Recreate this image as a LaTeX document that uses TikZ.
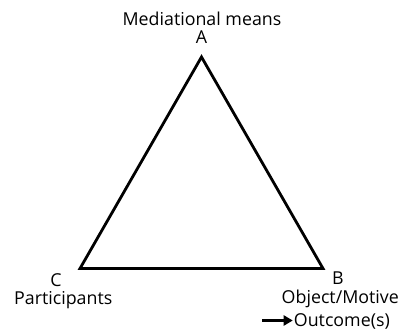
\documentclass[tikz,border=0pt]{standalone}
\usepackage{fontspec}
\setmainfont{Open Sans}
\usetikzlibrary{arrows.meta}
\begin{document}
\begin{tikzpicture}[x=1pt,y=-1pt,
  lbl/.style={inner sep=0pt,font=\fontsize{17.8}{20}\selectfont},
  side/.style={line width=2.8pt,line join=miter},
  pointer/.style={line width=2.4pt,-{Triangle[length=9pt,width=10pt]},shorten >=1pt}]
\useasboundingbox (0,0) rectangle (401,333);
\coordinate (A) at (201.5,57);
\coordinate (C) at (80,268.5);
\coordinate (B) at (323,268.5);
\draw[side] (A) -- (B) -- (C) -- cycle;
\node[lbl,anchor=base] (mm) at (202,25) {Mediational means};
\node[lbl,anchor=base] (la) at (201.5,43) {A};
\node[lbl,anchor=base] (lc) at (56,286) {C};
\node[lbl,anchor=base west] (pa) at (14,304) {Participants};
\node[lbl,anchor=base] (lb) at (338,284) {B};
\node[lbl,anchor=base east] (om) at (399,303) {Object/Motive};
\node[lbl,anchor=base east] (oc) at (390,326) {Outcome(s)};
\coordinate (tail) at (262,320.5);
\draw[pointer] (tail) -- (tail -| oc.west);
\end{tikzpicture}
\end{document}
